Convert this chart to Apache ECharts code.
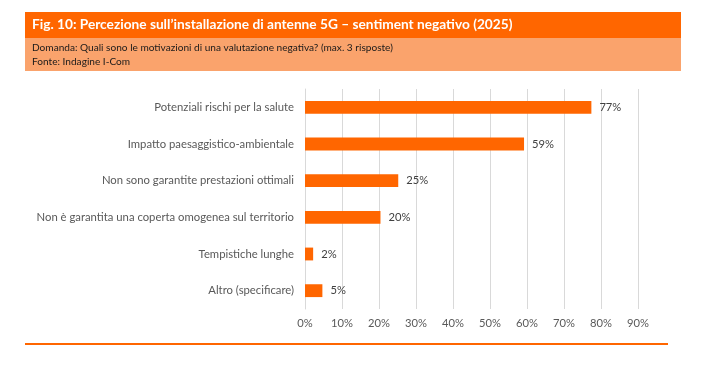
<!DOCTYPE html>
<html>
<head>
<meta charset="utf-8">
<script src="https://cdn.jsdelivr.net/npm/echarts@6/dist/echarts.min.js"></script>
<style>
html,body{margin:0;padding:0;background:#fff;}
#chart{width:710px;height:365px;}
</style>
</head>
<body>
<div id="chart"></div>
<script>
const categories = [
  "Potenziali rischi per la salute",
  "Impatto paesaggistico-ambientale",
  "Non sono garantite prestazioni ottimali",
  "Non è garantita una coperta omogenea sul territorio",
  "Tempistiche lunghe",
  "Altro (specificare)"
];
const values = [77.4, 59.2, 25.2, 20.4, 2.2, 4.7];
const xTicks = [0, 10, 20, 30, 40, 50, 60, 70, 80, 90];

const titleText = "Fig. 10: Percezione sull\u2019installazione di antenne 5G \u2013 sentiment negativo (2025)";
const subText1 = "Domanda: Quali sono le motivazioni di una valutazione negativa? (max. 3 risposte)";
const subText2 = "Fonte: Indagine I-Com";

const FONT = "Lato, 'Liberation Sans', sans-serif";
const ORANGE = "#FF6600";
const LIGHT = "#FAA36C";

const chart = echarts.init(document.getElementById('chart'), null, {renderer: 'canvas'});
chart.setOption({
  animation: false,
  backgroundColor: '#fff',
  textStyle: {fontFamily: FONT},
  grid: {left: 305, right: 72, top: 89, bottom: 56, containLabel: false},
  xAxis: {
    type: 'value',
    min: xTicks[0],
    max: xTicks[xTicks.length - 1],
    interval: 10,
    axisLine: {show: false},
    axisTick: {show: false},
    splitLine: {show: true, lineStyle: {color: '#D9D9D9', width: 1}},
    axisLabel: {formatter: '{value}%', color: '#595959', fontSize: 11.2, margin: 9, fontFamily: FONT}
  },
  yAxis: {
    type: 'category',
    inverse: true,
    data: categories,
    axisLine: {show: true, lineStyle: {color: '#D9D9D9', width: 1}},
    axisTick: {show: false},
    axisLabel: {color: '#595959', fontSize: 11.3, margin: 11, fontFamily: FONT}
  },
  series: [{
    type: 'bar',
    data: values,
    barWidth: '35%',
    itemStyle: {color: ORANGE},
    label: {
      show: true,
      position: 'right',
      distance: 8,
      color: '#404040',
      fontSize: 11.2,
      fontFamily: FONT,
      formatter: p => Math.round(p.value) + '%'
    }
  }],
  graphic: [
    {type: 'rect', shape: {x: 25, y: 12, width: 656, height: 26}, style: {fill: ORANGE}, silent: true},
    {type: 'rect', shape: {x: 25, y: 38, width: 656, height: 33}, style: {fill: LIGHT}, silent: true},
    {type: 'text', x: 32, y: 25, style: {text: titleText, fill: '#fff', font: "bold 13.7px " + FONT, verticalAlign: 'middle'}, silent: true},
    {type: 'text', x: 32, y: 48, style: {text: subText1, fill: '#1a1a1a', font: "10.1px " + FONT, verticalAlign: 'middle'}, silent: true},
    {type: 'text', x: 32, y: 62, style: {text: subText2, fill: '#1a1a1a', font: "10.1px " + FONT, verticalAlign: 'middle'}, silent: true},
    {type: 'rect', shape: {x: 25, y: 343, width: 643, height: 2}, style: {fill: ORANGE}, silent: true}
  ]
});
</script>
</body>
</html>
